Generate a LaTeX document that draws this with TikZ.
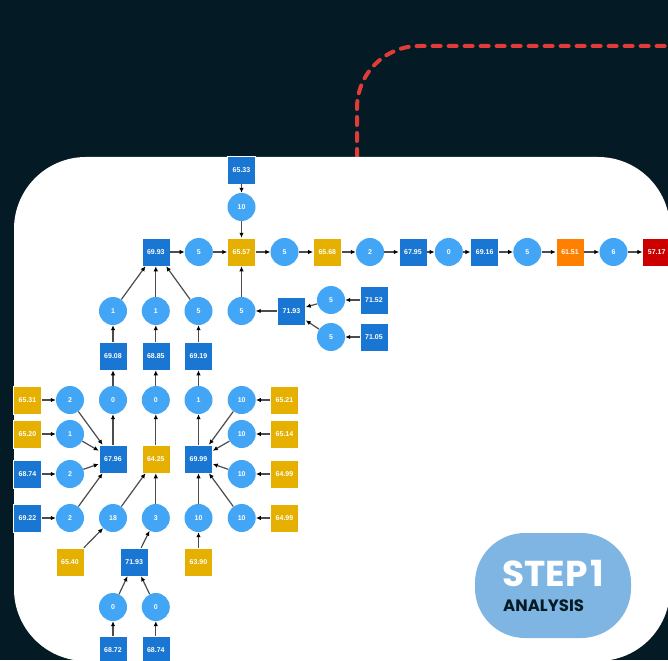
\documentclass[tikz,border=0pt]{standalone}
\usepackage{fontspec}
\usetikzlibrary{arrows.meta}
\newfontfamily\labelfont{Liberation Sans}
\newfontfamily\stepfont{Poppins}
\definecolor{mynight}{RGB}{4,27,38}
\definecolor{myred}{RGB}{224,60,56}
\definecolor{myblue}{RGB}{25,118,210}
\definecolor{mysky}{RGB}{66,165,245}
\definecolor{mygold}{RGB}{230,176,0}
\definecolor{myorange}{RGB}{255,128,0}
\definecolor{mycrimson}{RGB}{204,0,0}
\definecolor{mybadge}{RGB}{127,181,226}
\colorlet{myedge}{black!70}

\begin{document}
\begin{tikzpicture}[x=1pt,y=-1pt]
\tikzset{SquareStyle/.style ={rectangle,minimum size=28pt,inner sep=0pt,fill=myblue,draw=white,line width=0.5pt,
  text=white,font=\labelfont\bfseries\fontsize{7}{8}\selectfont}}
\tikzset{GoldStyle/.style ={SquareStyle,fill=mygold}}
\tikzset{CircleStyle/.style ={circle,minimum size=28pt,inner sep=0pt,fill=mysky,
  text=white,font=\labelfont\bfseries\fontsize{7}{8}\selectfont}}
\tikzset{EdgeStyle/.style ={draw=myedge,line width=1.2pt,-{Latex[length=5pt,width=4.5pt,color=black]}}}
\useasboundingbox (0,0) rectangle (668,660);
\fill[mynight] (0,0) rectangle (668,660);
\draw[myred,line width=4pt,dash pattern=on 8pt off 8pt,line cap=round,rounded corners=62pt]
  (357,157) -- (357,46) -- (700,46);
\fill[white,rounded corners=72pt] (14,157) rectangle (670,661);
% badge
\fill[mybadge,rounded corners=50pt] (475,533) rectangle (631,638);
\node[anchor=base west,inner sep=0pt,text=white,font=\stepfont\bfseries\fontsize{36}{36}\selectfont] (step) at (502,586) {STEP\hspace{-0.12em} 1};
\node[anchor=base west,inner sep=0pt,text=mynight,font=\stepfont\bfseries\fontsize{16.5}{17}\selectfont] (task) at (503,611) {ANALYSIS};
% main row
\node[SquareStyle] (q1) at (155.8,252) {69.93};
\node[CircleStyle] (c1) at (198.8,252) {5};
\node[GoldStyle] (q2) at (241.5,252) {65.57};
\node[CircleStyle] (c2) at (284.5,252) {5};
\node[GoldStyle] (q3) at (327.3,252) {65.68};
\node[CircleStyle] (c3) at (370,252) {2};
\node[SquareStyle] (q4) at (413,252) {67.95};
\node[CircleStyle] (c4) at (448.8,252) {0};
\node[SquareStyle] (q5) at (484.7,252) {69.16};
\node[CircleStyle] (c5) at (527.3,252) {5};
\node[SquareStyle,fill=myorange] (q6) at (570,252) {61.51};
\node[CircleStyle] (c6) at (613.5,252) {6};
\node[SquareStyle,fill=mycrimson] (q7) at (656.7,252) {57.17};
\node[SquareStyle] (q8) at (241.5,170) {65.33};
\node[CircleStyle] (c7) at (241.5,207) {10};
% right branch
\node[CircleStyle] (c8) at (241.5,311) {5};
\node[SquareStyle] (q9) at (291.5,311) {71.93};
\node[CircleStyle] (c9) at (331,300) {5};
\node[CircleStyle] (c10) at (331,337) {5};
\node[SquareStyle] (q10) at (374,300) {71.52};
\node[SquareStyle] (q11) at (374,337) {71.05};
% left tree
\node[CircleStyle] (c11) at (113,311) {1};
\node[CircleStyle] (c12) at (155.8,311) {1};
\node[CircleStyle] (c13) at (198.5,311) {5};
\node[SquareStyle] (q12) at (113,356) {69.08};
\node[SquareStyle] (q13) at (155.8,356) {68.85};
\node[SquareStyle] (q14) at (198.5,356) {69.19};
\node[CircleStyle] (c14) at (113,400) {0};
\node[CircleStyle] (c15) at (155.8,400) {0};
\node[CircleStyle] (c16) at (198.5,400) {1};
\node[SquareStyle] (q15) at (113,459) {67.96};
\node[GoldStyle] (q16) at (155.8,459) {64.25};
\node[SquareStyle] (q17) at (198.5,459) {69.99};
\node[GoldStyle] (q18) at (27.5,400) {65.31};
\node[GoldStyle] (q19) at (27.5,434) {65.20};
\node[SquareStyle] (q20) at (27.5,474) {68.74};
\node[SquareStyle] (q21) at (27.5,518) {69.22};
\node[CircleStyle] (c17) at (70,400) {2};
\node[CircleStyle] (c18) at (70,434) {1};
\node[CircleStyle] (c19) at (70,474) {2};
\node[CircleStyle] (c20) at (70,518) {2};
\node[CircleStyle] (c21) at (113,518) {18};
\node[CircleStyle] (c22) at (155.8,518) {3};
\node[CircleStyle] (c23) at (198.5,518) {10};
\node[CircleStyle] (c24) at (241.7,400) {10};
\node[CircleStyle] (c25) at (241.7,434) {10};
\node[CircleStyle] (c26) at (241.7,474) {10};
\node[CircleStyle] (c27) at (241.7,518) {10};
\node[GoldStyle] (q22) at (284.5,400) {65.21};
\node[GoldStyle] (q23) at (284.5,434) {65.14};
\node[GoldStyle] (q24) at (284.5,474) {64.99};
\node[GoldStyle] (q25) at (284.5,518) {64.99};
\node[GoldStyle] (q26) at (70,562) {65.40};
\node[SquareStyle] (q27) at (134.2,562) {71.93};
\node[GoldStyle] (q28) at (198.5,562) {63.90};
\node[CircleStyle] (c28) at (113,607) {0};
\node[CircleStyle] (c29) at (155.8,607) {0};
\node[SquareStyle] (q29) at (113,650) {68.72};
\node[SquareStyle] (q30) at (155.8,650) {68.74};
% edges
\foreach \a/\b in {q8/c7,c7/q2,q1/c1,c1/q2,q2/c2,c2/q3,q3/c3,c3/q4,q4/c4,c4/q5,q5/c5,c5/q6,q6/c6,c6/q7,
  c8/q2,q9/c8,c9/q9,c10/q9,q10/c9,q11/c10,c11/q1,c12/q1,c13/q1,q12/c11,q13/c12,q14/c13,
  c14/q12,c15/q13,c16/q14,q15/c14,q16/c15,q17/c16,q18/c17,q19/c18,q20/c19,q21/c20,
  c17/q15,c18/q15,c19/q15,c20/q15,c21/q16,c22/q16,c23/q17,c24/q17,c25/q17,c26/q17,c27/q17,
  q22/c24,q23/c25,q24/c26,q25/c27,q26/c21,q27/c22,q28/c23,c28/q27,c29/q27,q29/c28,q30/c29}
  \draw[EdgeStyle] (\a) -- (\b);
\end{tikzpicture}
\end{document}
